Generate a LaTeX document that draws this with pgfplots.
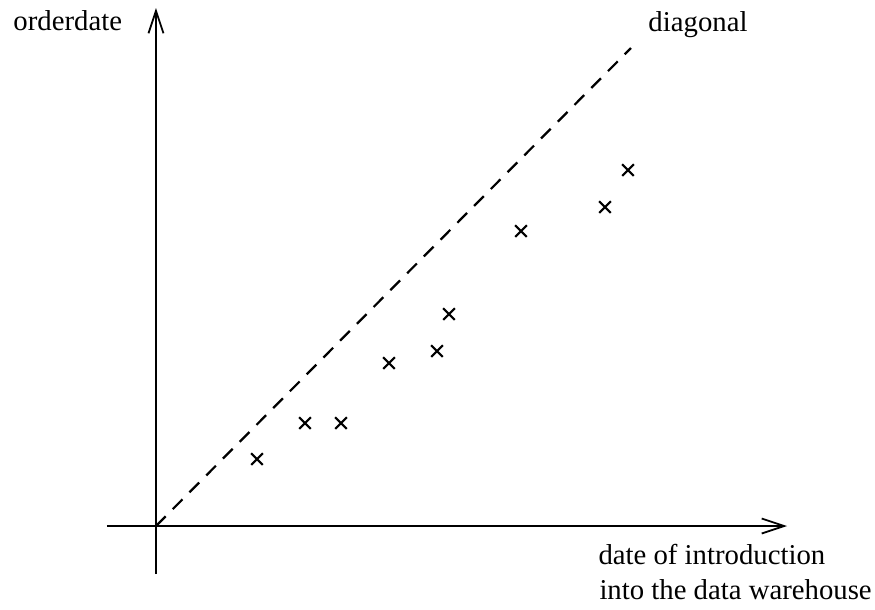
\documentclass[border=0pt]{standalone}
\usepackage{fontspec}
\setmainfont{Liberation Serif}
\usepackage{pgfplots}
\pgfplotsset{compat=1.18}
\usetikzlibrary{arrows.meta}
\begin{document}
\fontsize{11.5}{13}\selectfont
\begin{tikzpicture}
\begin{axis}[
  scale only axis,
  x=0.4pt, y=0.4pt,
  axis lines=middle,
  xmin=-49, xmax=631,
  ymin=-48, ymax=518,
  ticks=none,
  clip=false,
  axis line style={line width=0.8pt, -{Straight Barb[length=9pt,width=6pt,line width=0.7pt]}},
]
% invisible frame with the reference's margins
\path (axis cs:-156,-83) rectangle (axis cs:719,526);

% diagonal
\addplot[black, line width=0.9pt, dash pattern=on 5.5pt off 4pt] coordinates {(0,0) (475,478)};

% data points
\addplot[only marks, mark=x, mark size=3.3pt, line width=0.85pt, black] coordinates {
  (101,67) (149,103) (185,103) (233,163) (281,175) (293,212)
  (365,295) (449,319) (472,356)
};

\node[anchor=base west, inner sep=0pt] at (axis cs:-143,496) {orderdate};
\node[anchor=base west, inner sep=0pt] at (axis cs:492,495) {diagonal};
\node[anchor=base west, inner sep=0pt] at (axis cs:442,-38) {date of introduction};
\node[anchor=base west, inner sep=0pt] at (axis cs:443,-73) {into the data warehouse};
\end{axis}
\end{tikzpicture}
\end{document}
